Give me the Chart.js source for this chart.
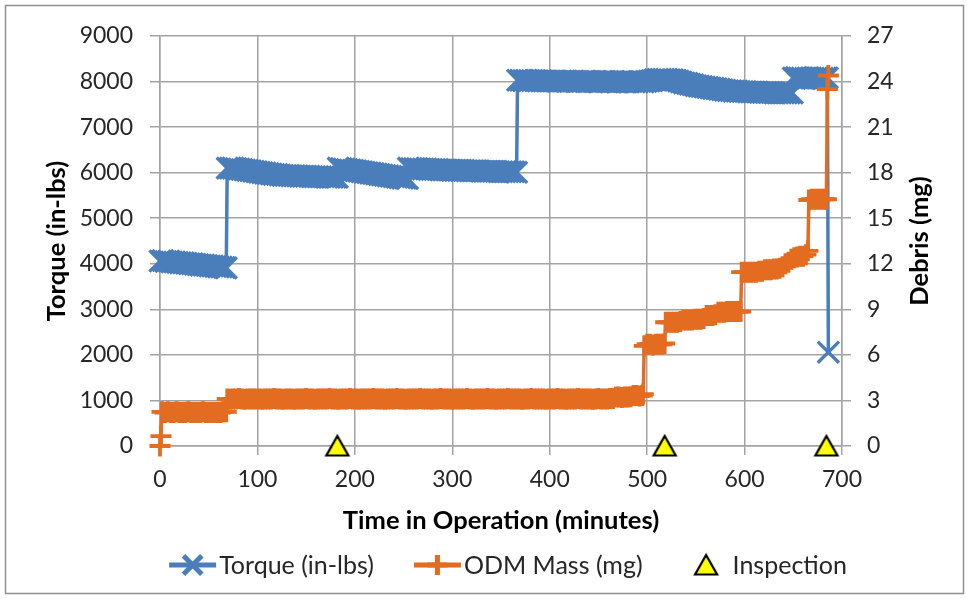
<!DOCTYPE html>
<html>
<head>
<meta charset="utf-8">
<script src="https://cdn.jsdelivr.net/npm/chart.js@4.4.1/dist/chart.umd.min.js"></script>
<style>
  html, body { margin: 0; padding: 0; background: #fff; }
  canvas { display: block; }
</style>
</head>
<body>
<canvas id="myChart" width="967" height="599"></canvas>
<script>
(function () {
    "use strict";

    // Torque (in-lbs), left axis
    var torqueMinutes = [
        0, 3, 6, 9, 12, 15, 18, 21, 24, 27, 30, 33, 36, 39, 42, 45, 48, 51, 54, 57, 60, 63, 66, 68,
        69, 72, 75, 78, 81, 84, 87, 90, 93, 96, 99, 102, 105, 108, 111, 114, 117, 120, 123, 126,
        129, 132, 135, 138, 141, 144, 147, 150, 153, 156, 159, 162, 165, 168, 171, 174, 177, 180, 182,
        183, 186, 189, 192, 195, 198, 201, 204, 207, 210, 213, 216, 219, 222, 225, 228, 231, 234,
        237, 240, 243, 246, 249, 252, 254,
        255, 258, 261, 264, 267, 270, 273, 276, 279, 282, 285, 288, 291, 294, 297, 300, 303, 306,
        309, 312, 315, 318, 321, 324, 327, 330, 333, 336, 339, 342, 345, 348, 351, 354, 357, 360, 363, 366,
        367, 370, 373, 376, 379, 382, 385, 388, 391, 394, 397, 400,
        403, 406, 409, 412, 415, 418, 421, 424, 427, 430, 433, 436, 439, 442, 445, 448, 451, 454,
        457, 460, 463, 466, 469, 472, 475, 478, 481, 484, 487, 490, 493, 496, 499, 502, 505,
        508, 511, 514, 517, 520, 523, 526, 529,
        532, 535, 538, 541, 544, 547, 550, 553, 556, 559, 562, 565, 568, 571, 574, 577, 580, 583,
        586, 589, 592, 595, 598, 601, 604, 607, 610, 613, 616, 619, 622, 625, 628, 631, 634, 637,
        640, 643, 646, 649,
        650, 653, 656, 659, 662, 665, 668, 671, 674, 677, 680, 683, 685,
        686
    ];
    var torqueValues = [
        4060, 4070, 4050, 4060, 4040, 4040, 4030, 4020, 4020, 4010, 4000, 4000, 3990, 3980, 3970, 3970, 3960, 3950, 3950, 3940, 3930, 3930, 3920, 3910,
        6100, 6100, 6100, 6090, 6080, 6070, 6060, 6050, 6040, 6030, 6020, 6010, 6000, 5990, 5980, 5970, 5960, 5960, 5950, 5940,
        5940, 5940, 5930, 5930, 5930, 5920, 5920, 5920, 5920, 5910, 5910, 5910, 5910, 5910, 5900, 5900, 5900, 5900, 5900,
        6100, 6090, 6080, 6070, 6060, 6050, 6040, 6030, 6020, 6010, 6000, 5990, 5980, 5970, 5960, 5950, 5940, 5930,
        5920, 5910, 5900, 5890, 5880, 5880, 5870,
        6100, 6090, 6090, 6090, 6080, 6080, 6080, 6070, 6070, 6070, 6070, 6060, 6060, 6060, 6060, 6050, 6050, 6050,
        6050, 6050, 6040, 6040, 6040, 6040, 6040, 6030, 6030, 6030, 6030, 6030, 6030, 6020, 6020, 6020, 6020, 6020, 6020, 6010,
        8030, 8030, 8020, 8030, 8020, 8020, 8020, 8010, 8020, 8010, 8010, 8010,
        8010, 8010, 8000, 8010, 8010, 8000, 8000, 8010, 8000, 8000, 8000, 8010, 8000, 8000, 8000, 8000, 7990, 8000,
        8000, 8000, 7990, 8000, 7990, 8000, 8000, 7990, 7990, 8000, 7990, 7990, 8000, 7990, 8000, 8010, 8020,
        8040, 8050, 8050, 8050, 8050, 8040, 8040, 8030,
        8010, 7990, 7970, 7960, 7940, 7930, 7910, 7900, 7890, 7880, 7870, 7860, 7850, 7840, 7830, 7820, 7810, 7800,
        7800, 7790, 7790, 7780, 7780, 7780, 7770, 7770, 7770, 7770, 7760, 7760, 7760, 7760, 7760, 7750, 7750, 7750,
        7750, 7750, 7750, 7750,
        8080, 8090, 8080, 8080, 8070, 8080, 8080, 8070, 8080, 8080, 8070, 8080, 8080,
        2060
    ];

    // ODM debris mass (mg), right axis
    var odmMinutes = [
        0, 1,
        2, 5, 8, 11, 14, 17, 20, 23, 26, 29, 32, 35, 38, 41, 44, 47, 50, 53, 56, 59, 62, 65, 68,
        69, 72, 75, 78, 81, 84, 87, 90, 93, 96,
        99, 102, 105, 108, 111, 114, 117, 120, 123, 126,
        129, 132, 135, 138, 141, 144, 147, 150, 153, 156,
        159, 162, 165, 168, 171, 174, 177, 180, 183, 186,
        189, 192, 195, 198, 201, 204, 207, 210, 213, 216,
        219, 222, 225, 228, 231, 234, 237, 240, 243, 246,
        249, 252, 255, 258, 261, 264, 267, 270, 273, 276,
        279, 282, 285, 288, 291, 294, 297, 300, 303, 306,
        309, 312, 315, 318, 321, 324, 327, 330, 333, 336,
        339, 342, 345, 348, 351, 354, 357, 360, 363, 366,
        369, 372, 375, 378, 381, 384, 387, 390, 393, 396,
        399, 402, 405, 408, 411, 414, 417, 420, 423, 426,
        429, 432, 435, 438, 441, 444, 447, 450, 453, 456,
        459, 462, 465,
        468, 471, 474, 477, 480, 483,
        486, 489, 492, 495, 496,
        497, 500, 503, 506, 509, 512, 515, 518,
        519, 522, 525, 528, 531, 534, 537, 540, 543, 546, 549, 552, 555, 558,
        561, 564, 567, 570, 573, 576, 579, 582, 585, 588, 591, 594, 596,
        597, 600, 603, 606, 609, 612, 615, 618, 621, 624, 627, 630,
        633, 636, 639, 642, 645, 648, 651, 654, 657, 660, 663, 665,
        666, 669, 672, 675, 678, 681, 684,
        685, 686
    ];
    var odmValues = [
        0, 0.65,
        2.25, 2.2, 2.25, 2.2, 2.2, 2.25, 2.2, 2.2, 2.2, 2.25, 2.2, 2.2, 2.2, 2.2, 2.25, 2.2, 2.2, 2.2, 2.2, 2.2, 2.2, 2.25, 2.25,
        3.1, 3.08, 3.1, 3.1, 3.12, 3.1, 3.08, 3.1, 3.1, 3.1,
        3.1, 3.1, 3.08, 3.1, 3.1, 3.1, 3.12, 3.1, 3.1, 3.08,
        3.1, 3.1, 3.1, 3.08, 3.1, 3.1, 3.1, 3.12, 3.1, 3.1,
        3.08, 3.1, 3.1, 3.1, 3.1, 3.12, 3.1, 3.1, 3.08, 3.1,
        3.1, 3.1, 3.12, 3.1, 3.1, 3.08, 3.1, 3.1, 3.1, 3.1,
        3.12, 3.1, 3.1, 3.1, 3.08, 3.1, 3.1, 3.1, 3.12, 3.1,
        3.1, 3.08, 3.1, 3.1, 3.1, 3.1, 3.12, 3.1, 3.1, 3.1,
        3.08, 3.1, 3.1, 3.12, 3.1, 3.1, 3.1, 3.08, 3.1, 3.1,
        3.1, 3.1, 3.12, 3.1, 3.08, 3.1, 3.1, 3.1, 3.1, 3.12,
        3.1, 3.1, 3.08, 3.1, 3.1, 3.1, 3.12, 3.1, 3.1, 3.1,
        3.1, 3.08, 3.1, 3.1, 3.12, 3.1, 3.1, 3.1, 3.1, 3.08,
        3.1, 3.1, 3.1, 3.12, 3.1, 3.1, 3.08, 3.1, 3.1, 3.1,
        3.12, 3.1, 3.1, 3.1, 3.1, 3.08, 3.1, 3.12, 3.1, 3.1,
        3.1, 3.12, 3.12,
        3.22, 3.22, 3.2, 3.22, 3.22, 3.24,
        3.32, 3.32, 3.3, 3.32, 3.42,
        6.6, 6.7, 6.7, 6.65, 6.7, 6.7, 6.7, 6.75,
        8.15, 8.15, 8.15, 8.15, 8.15, 8.2, 8.3, 8.3, 8.3, 8.3, 8.35, 8.35, 8.35, 8.4,
        8.6, 8.6, 8.6, 8.65, 8.8, 8.8, 8.8, 8.85, 8.85, 8.85, 8.85, 8.85, 8.85,
        11.45, 11.45, 11.45, 11.45, 11.45, 11.45, 11.5, 11.5, 11.6, 11.6, 11.6, 11.65,
        11.65, 11.7, 11.8, 12.0, 12.1, 12.3, 12.4, 12.45, 12.5, 12.5, 12.6, 12.85,
        16.2, 16.25, 16.25, 16.25, 16.25, 16.25, 16.25,
        23.5, 24.4
    ];

    // Inspection markers, plotted on the time axis at zero
    var inspectionMinutes = [182, 518, 684];
    var inspectionValues = [0, 0, 0];

    // Tick labels
    var timeTicks = [0, 100, 200, 300, 400, 500, 600, 700];
    var torqueTicks = [0, 1000, 2000, 3000, 4000, 5000, 6000, 7000, 8000, 9000];
    var debrisTicks = [0, 3, 6, 9, 12, 15, 18, 21, 24, 27];

    var FONT = "Lato, 'Open Sans', sans-serif";
    var TEXT = '#262626';
    var GRID = '#a3a3a3';
    var BLUE = '#4a7ebb';
    var ORANGE = '#e46c21';

    function pairs(xs, ys) {
        return xs.map(function (m, i) { return { x: m, y: ys[i] }; });
    }

    function makeTriangle() {
        var c = document.createElement('canvas');
        c.width = 28;
        c.height = 26;
        var g = c.getContext('2d');
        g.beginPath();
        g.moveTo(14, 3);
        g.lineTo(25, 22.5);
        g.lineTo(3, 22.5);
        g.closePath();
        g.fillStyle = '#ffff00';
        g.fill();
        g.lineWidth = 2.2;
        g.strokeStyle = '#000';
        g.stroke();
        return c;
    }
    var triangle = makeTriangle();

    function fixedTicks(list) {
        return function (scale) {
            scale.ticks = list.map(function (v) { return { value: v }; });
        };
    }

    Chart.defaults.font.family = FONT;
    Chart.defaults.font.size = 23;
    Chart.defaults.color = TEXT;

    var frameAndLegend = {
        id: 'frameAndLegend',
        beforeDraw: function (chart) {
            var ctx = chart.ctx;
            ctx.save();
            ctx.fillStyle = '#fff';
            ctx.fillRect(0, 0, chart.width, chart.height);
            ctx.restore();
        },
        afterDraw: function (chart) {
            var ctx = chart.ctx;
            var area = chart.chartArea;
            ctx.save();

            // outer frame
            ctx.strokeStyle = '#8f8f8f';
            ctx.lineWidth = 1.5;
            ctx.strokeRect(5.5, 5.5, 958, 588);

            // right axis title, reads bottom-to-top like the left one
            ctx.fillStyle = '#000';
            ctx.font = 'bold 25.5px ' + FONT;
            ctx.textAlign = 'center';
            ctx.textBaseline = 'middle';
            ctx.translate(920, (area.top + area.bottom) / 2);
            ctx.rotate(-Math.PI / 2);
            ctx.fillText('Debris (mg)', 0, 0);
            ctx.setTransform(1, 0, 0, 1, 0, 0);

            // legend
            var iconW = 47, gap = 3, spacing = 40, y = 565;
            ctx.font = '25px ' + FONT;
            ctx.textAlign = 'left';
            var items = chart.data.datasets.map(function (ds) {
                return { ds: ds, w: iconW + gap + ctx.measureText(ds.label).width };
            });
            var total = items.reduce(function (s, it) { return s + it.w; }, 0) + spacing * (items.length - 1);
            var x = 508 - total / 2;
            items.forEach(function (it) {
                var ds = it.ds;
                var cx = x + iconW / 2;
                if (ds.showLine) {
                    ctx.strokeStyle = ds.borderColor;
                    ctx.lineWidth = 5;
                    ctx.beginPath();
                    ctx.moveTo(x, y);
                    ctx.lineTo(x + iconW, y);
                    ctx.stroke();
                }
                ctx.strokeStyle = ds.pointBorderColor;
                ctx.fillStyle = ds.pointBackgroundColor;
                Chart.helpers.drawPoint(ctx, {
                    pointStyle: ds.pointStyle,
                    radius: ds.pointStyle === 'crossRot' ? 13 : (ds.pointStyle === 'cross' ? 10 : 12),
                    rotation: 0,
                    borderWidth: 2.5
                }, cx, y);
                ctx.fillStyle = TEXT;
                ctx.fillText(ds.label, x + iconW + gap, y + 1);
                x += it.w + spacing;
            });
            ctx.restore();
        }
    };

    var ctx = document.getElementById('myChart').getContext('2d');
    var chart = new Chart(ctx, {
        type: 'scatter',
        data: {
            datasets: [{
                label: 'Torque (in-lbs)',
                data: pairs(torqueMinutes, torqueValues),
                yAxisID: 'y',
                showLine: true,
                borderColor: BLUE,
                borderWidth: 3.5,
                pointStyle: 'crossRot',
                pointRadius: 15,
                pointBorderWidth: 3.3,
                pointBorderColor: BLUE,
                pointBackgroundColor: BLUE,
                tension: 0,
                clip: false,
                order: 3
            }, {
                label: 'ODM Mass (mg)',
                data: pairs(odmMinutes, odmValues),
                yAxisID: 'y2',
                showLine: true,
                borderColor: ORANGE,
                borderWidth: 3.5,
                pointStyle: 'cross',
                pointRadius: 10.5,
                pointBorderWidth: 3.8,
                pointBorderColor: ORANGE,
                pointBackgroundColor: ORANGE,
                tension: 0,
                clip: false,
                order: 2
            }, {
                label: 'Inspection',
                data: pairs(inspectionMinutes, inspectionValues),
                yAxisID: 'y',
                showLine: false,
                pointStyle: triangle,
                pointRadius: 12,
                pointBorderColor: '#000',
                pointBackgroundColor: '#ffff00',
                clip: false,
                order: 1
            }]
        },
        options: {
            responsive: false,
            animation: false,
            events: [],
            layout: { padding: { left: 6, right: 6, top: 36, bottom: 60 } },
            plugins: {
                legend: { display: false },
                tooltip: { enabled: false }
            },
            scales: {
                x: {
                    type: 'linear',
                    position: 'bottom',
                    min: 0,
                    max: 700,
                    afterBuildTicks: fixedTicks(timeTicks),
                    afterFit: function (s) { s.height = 93; },
                    grid: { color: GRID, lineWidth: 1.5, tickLength: 9 },
                    border: { color: GRID, width: 1.5 },
                    ticks: { padding: 11, maxRotation: 0, autoSkip: false, callback: function (v) { return String(v); } },
                    title: {
                        display: true,
                        text: 'Time in Operation (minutes)',
                        color: '#000',
                        font: { size: 25.5, weight: 'bold' },
                        padding: { top: 0, bottom: 3 }
                    }
                },
                y: {
                    type: 'linear',
                    position: 'left',
                    min: 0,
                    max: 9000,
                    afterBuildTicks: fixedTicks(torqueTicks),
                    afterFit: function (s) { s.width = 154; },
                    grid: { color: GRID, lineWidth: 1.5, tickLength: 10 },
                    border: { color: GRID, width: 1.5 },
                    ticks: { padding: 17, autoSkip: false, callback: function (v) { return String(v); } },
                    title: {
                        display: true,
                        text: 'Torque (in-lbs)',
                        color: '#000',
                        font: { size: 25.5, weight: 'bold' },
                        padding: { top: 35, bottom: 0 }
                    }
                },
                y2: {
                    type: 'linear',
                    position: 'right',
                    min: 0,
                    max: 27,
                    afterBuildTicks: fixedTicks(debrisTicks),
                    afterFit: function (s) { s.width = 119; },
                    grid: { drawOnChartArea: false, color: GRID, lineWidth: 1.5, tickLength: 9 },
                    border: { color: GRID, width: 1.5 },
                    ticks: { padding: 16, autoSkip: false, callback: function (v) { return String(v); } }
                }
            }
        },
        plugins: [frameAndLegend]
    });
})();
</script>
</body>
</html>
